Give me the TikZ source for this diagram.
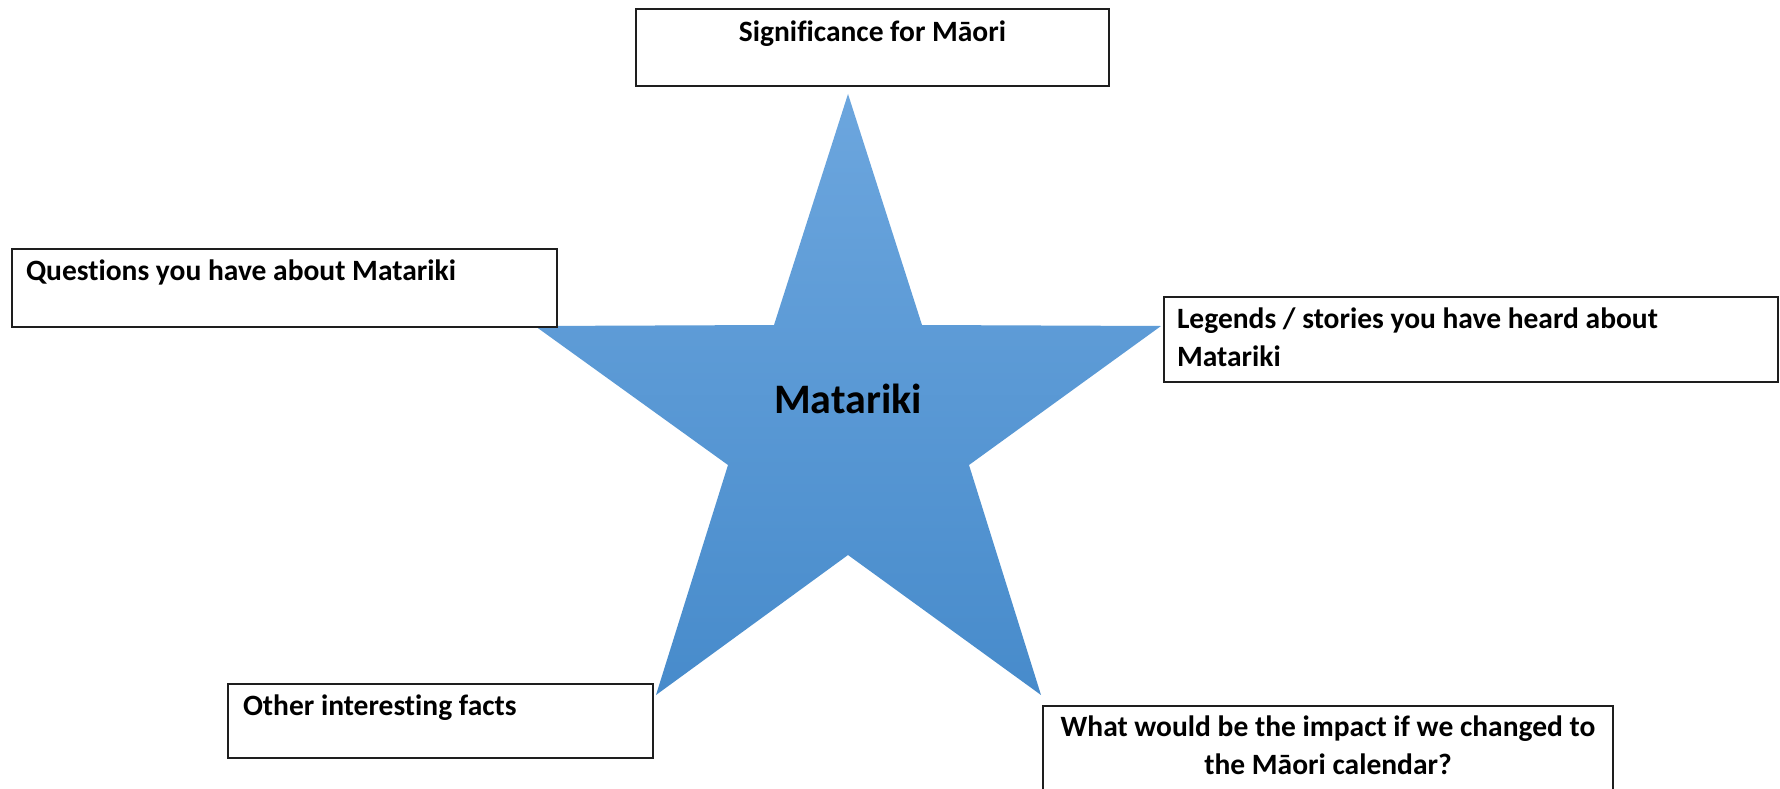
\documentclass[tikz,border=0pt]{standalone}
\usepackage{fontspec}
\setmainfont{Carlito}[Ligatures=NoCommon]
\definecolor{startop}{RGB}{108,166,222}
\definecolor{starbot}{RGB}{71,139,203}
\definecolor{boxline}{RGB}{30,30,30}
\begin{document}
\begin{tikzpicture}[x=1pt,y=-1pt,
  box/.style={draw=boxline,line width=1.2pt,fill=white,inner sep=0pt,outer sep=0pt,anchor=north west},
  lbl/.style={inner sep=0pt,outer sep=0pt,font=\bfseries\fontsize{29.5}{38}\selectfont}]
\clip (0,0) rectangle (1780,789);
\fill[white] (0,0) rectangle (1780,789);
% star
\shade[top color=startop,bottom color=starbot]
  (848,94) -- (922,325) -- (1161,326) -- (969,465) -- (1041,695) -- (848,555)
  -- (656,695) -- (728,465) -- (535,326) -- (774,325) -- cycle;
\node[lbl,font=\bfseries\fontsize{42}{50}\selectfont,anchor=base] (mat) at (848,413) {Matariki};
% boxes
\node[box,minimum width=473pt,minimum height=77pt] (sig) at (636,9) {};
\node[lbl,anchor=base] (sigt) at (sig.north |- 0,42) {Significance for Māori};
\node[box,minimum width=545pt,minimum height=78pt] (q) at (12,249) {};
\node[lbl,anchor=base west] (qt) at (26,280) {Questions you have about Matariki};
\node[box,minimum width=614pt,minimum height=85pt] (leg) at (1164,297) {};
\node[lbl,anchor=base west] (legt) at (1177,328) {\parbox[t]{600pt}{\raggedright Legends / stories you have heard about\\Matariki}};
\node[box,minimum width=425pt,minimum height=74pt] (oth) at (228,684) {};
\node[lbl,anchor=base west] (otht) at (243,715) {Other interesting facts};
\node[box,minimum width=570pt,minimum height=120pt] (imp) at (1043,706) {};
\node[lbl,anchor=base] (impt) at (imp.north |- 0,736) {\parbox[t]{560pt}{\centering What would be the impact if we changed to\\the Māori calendar?}};
\end{tikzpicture}
\end{document}
